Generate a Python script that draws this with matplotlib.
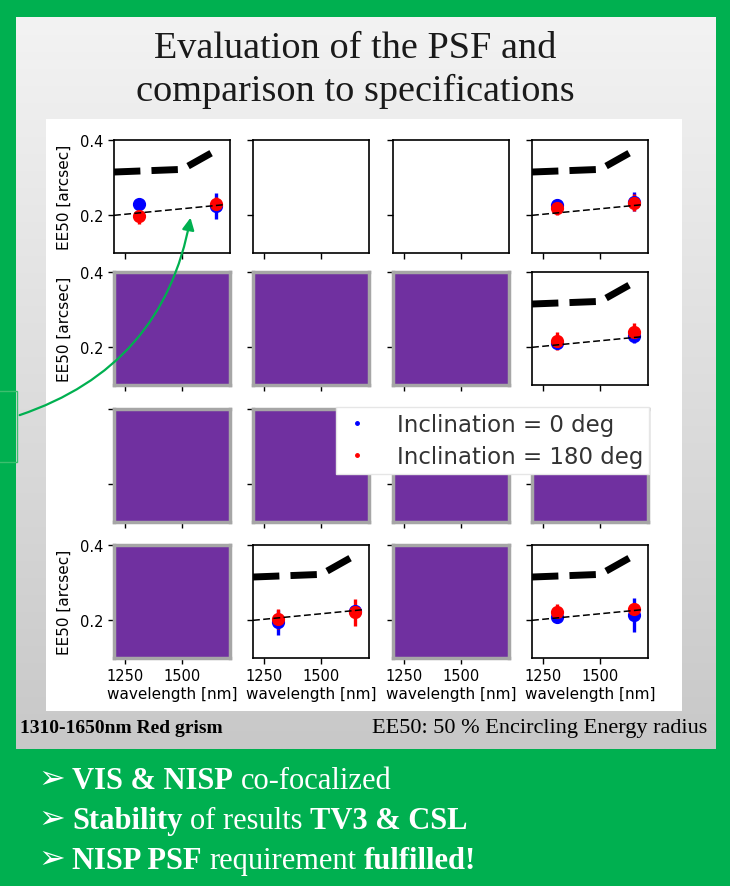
import numpy as np
import matplotlib
matplotlib.use("Agg")
from matplotlib import pyplot as plt
from matplotlib.colors import LinearSegmentedColormap
from matplotlib.patches import Rectangle, FancyArrowPatch
from matplotlib.lines import Line2D

# wavelengths of the measured points and the two reference curves
wl_points = [1310, 1650]
spec_wl = [1200, 1500, 1665]
spec_ee50 = [0.315, 0.322, 0.378]
goal_wl = [1200, 1680]
goal_ee50 = [0.200, 0.228]

# panels (row, col) holding measurements
data_cells = [(0, 0), (0, 3), (1, 3), (3, 1), (3, 3)]
ee50_inc0 = [[0.229, 0.225], [0.228, 0.236], [0.211, 0.229], [0.195, 0.225], [0.209, 0.214]]
err_inc0 = [[0.012, 0.035], [0.015, 0.025], [0.010, 0.018], [0.033, 0.008], [0.008, 0.045]]
ee50_inc180 = [[0.198, 0.230], [0.220, 0.234], [0.217, 0.242], [0.204, 0.221], [0.223, 0.230]]
err_inc180 = [[0.021, 0.018], [0.018, 0.022], [0.025, 0.022], [0.027, 0.035], [0.021, 0.015]]

# panels hidden behind purple boxes on the slide
purple_cells = [(1, 0), (1, 1), (1, 2), (2, 0), (2, 1), (2, 2), (2, 3), (3, 0), (3, 2)]

legend_labels = ["Inclination = 0 deg", "Inclination = 180 deg"]
x_ticks = [1250, 1500]
y_ticks = [0.2, 0.4]

W, H = 730, 887
green = "#00b050"
purple = "#7030a0"

fig = plt.figure(figsize=(W / 100, H / 100), dpi=100)
fig.patch.set_facecolor(green)

# slide background
bg = fig.add_axes([0, 0, 1, 1])
bg.axis("off")
grad = np.linspace(0, 1, 256).reshape(-1, 1)
cmap = LinearSegmentedColormap.from_list("g", ["#f3f3f3", "#c8c8c8"])
bg.imshow(grad, cmap=cmap, extent=(16, 716, 750, 18), aspect="auto")
bg.add_patch(Rectangle((46, 120), 636, 592, facecolor="white", edgecolor="none"))
bg.add_patch(Rectangle((-5, 392), 22, 71, facecolor="none", edgecolor="#3cbf6e", lw=1))
bg.set_xlim(0, W)
bg.set_ylim(H, 0)


def fx(x):
    return x / W


def fy(y):
    return 1 - y / H


col_left = [114, 253, 393, 532]
row_top = [141, 273, 410, 546]
aw, ah = 116, 113

for r in range(4):
    for c in range(4):
        ax = fig.add_axes([fx(col_left[c]), fy(row_top[r] + ah), aw / W, ah / H])
        ax.set_xlim(1200, 1710)
        ax.set_ylim(0.1, 0.4)
        ax.set_xticks(x_ticks)
        ax.set_yticks(y_ticks)
        ax.tick_params(direction="out", length=4, width=1, labelsize=10.5)
        for s in ax.spines.values():
            s.set_linewidth(1.2)
        if r == 3:
            ax.set_xlabel("wavelength [nm]", fontsize=11, labelpad=2)
        else:
            ax.tick_params(labelbottom=False)
        if c == 0 and r != 2:
            ax.set_ylabel("EE50 [arcsec]", fontsize=11, labelpad=6)
        else:
            ax.tick_params(labelleft=False)
        if (r, c) in purple_cells:
            ax.set_facecolor(purple)
            for s in ax.spines.values():
                s.set_color("#a6a6a6")
                s.set_linewidth(2.5)
        if (r, c) in data_cells:
            i = data_cells.index((r, c))
            ax.errorbar(wl_points, ee50_inc0[i], yerr=err_inc0[i], fmt="o", color="blue",
                        ms=8.5, elinewidth=2.4, capsize=0, zorder=2)
            ax.errorbar(wl_points, ee50_inc180[i], yerr=err_inc180[i], fmt="o", color="red",
                        ms=8.5, elinewidth=2.4, capsize=0, zorder=2)
            ax.plot(spec_wl, spec_ee50, color="black", lw=5, dashes=(3.8, 1.6), zorder=3)
            ax.plot(goal_wl, goal_ee50, color="black", lw=1.1, dashes=(4.5, 2.2), zorder=3)

handles = [Line2D([], [], marker=".", ls="none", color="blue", ms=5),
           Line2D([], [], marker=".", ls="none", color="red", ms=5)]
leg = fig.legend(handles, legend_labels, loc="upper left", bbox_to_anchor=(fx(336), fy(408)),
                 fontsize=16.5, frameon=True, fancybox=False, edgecolor="#e6e6e6",
                 framealpha=1, borderpad=0.25, handlelength=1.3, handletextpad=1.1,
                 labelspacing=0.4, borderaxespad=0)
for t in leg.get_texts():
    t.set_color("#333333")

# overlay for arrow and slide texts
top = fig.add_axes([0, 0, 1, 1])
top.axis("off")
top.set_xlim(0, W)
top.set_ylim(H, 0)
top.add_patch(FancyArrowPatch((17, 417), (191, 216), connectionstyle="arc3,rad=0.3",
                              arrowstyle="-|>", mutation_scale=18, color=green, lw=1.6))

serif = "Liberation Serif"
fig.text(fx(355), fy(58), "Evaluation of the PSF and", ha="center", va="baseline",
         fontsize=27.5, family=serif, color="#1a1a1a")
fig.text(fx(355), fy(101), "comparison to specifications", ha="center", va="baseline",
         fontsize=27.5, family=serif, color="#1a1a1a")
fig.text(fx(20), fy(733), "1310-1650nm Red grism", ha="left", va="baseline",
         fontsize=14, family=serif, fontweight="bold", color="black")
fig.text(fx(707), fy(733), "EE50: 50 % Encircling Energy radius", ha="right", va="baseline",
         fontsize=16, family=serif, color="black")

renderer = fig.canvas.get_renderer()


def draw_runs(x, y, parts, size):
    space = size * 100 / 72 * 0.25
    for s, bold in parts:
        t = fig.text(fx(x), fy(y), s, fontsize=size, family=serif, color="white",
                     fontweight="bold" if bold else "normal", va="baseline")
        x += t.get_window_extent(renderer=renderer).width + space


bullets = [
    [("VIS & NISP", True), ("co-focalized", False)],
    [("Stability", True), ("of results", False), ("TV3 & CSL", True)],
    [("NISP PSF", True), ("requirement", False), ("fulfilled!", True)],
]
for k, parts in enumerate(bullets):
    yb = 789 + 40 * k
    fig.text(fx(38), fy(yb - 1), "\u27a2", fontsize=23, family=["DejaVu Sans"],
             color="white", va="baseline")
    draw_runs(72, yb, parts, 22)

fig.savefig("out.png", dpi=100, facecolor=fig.get_facecolor())
